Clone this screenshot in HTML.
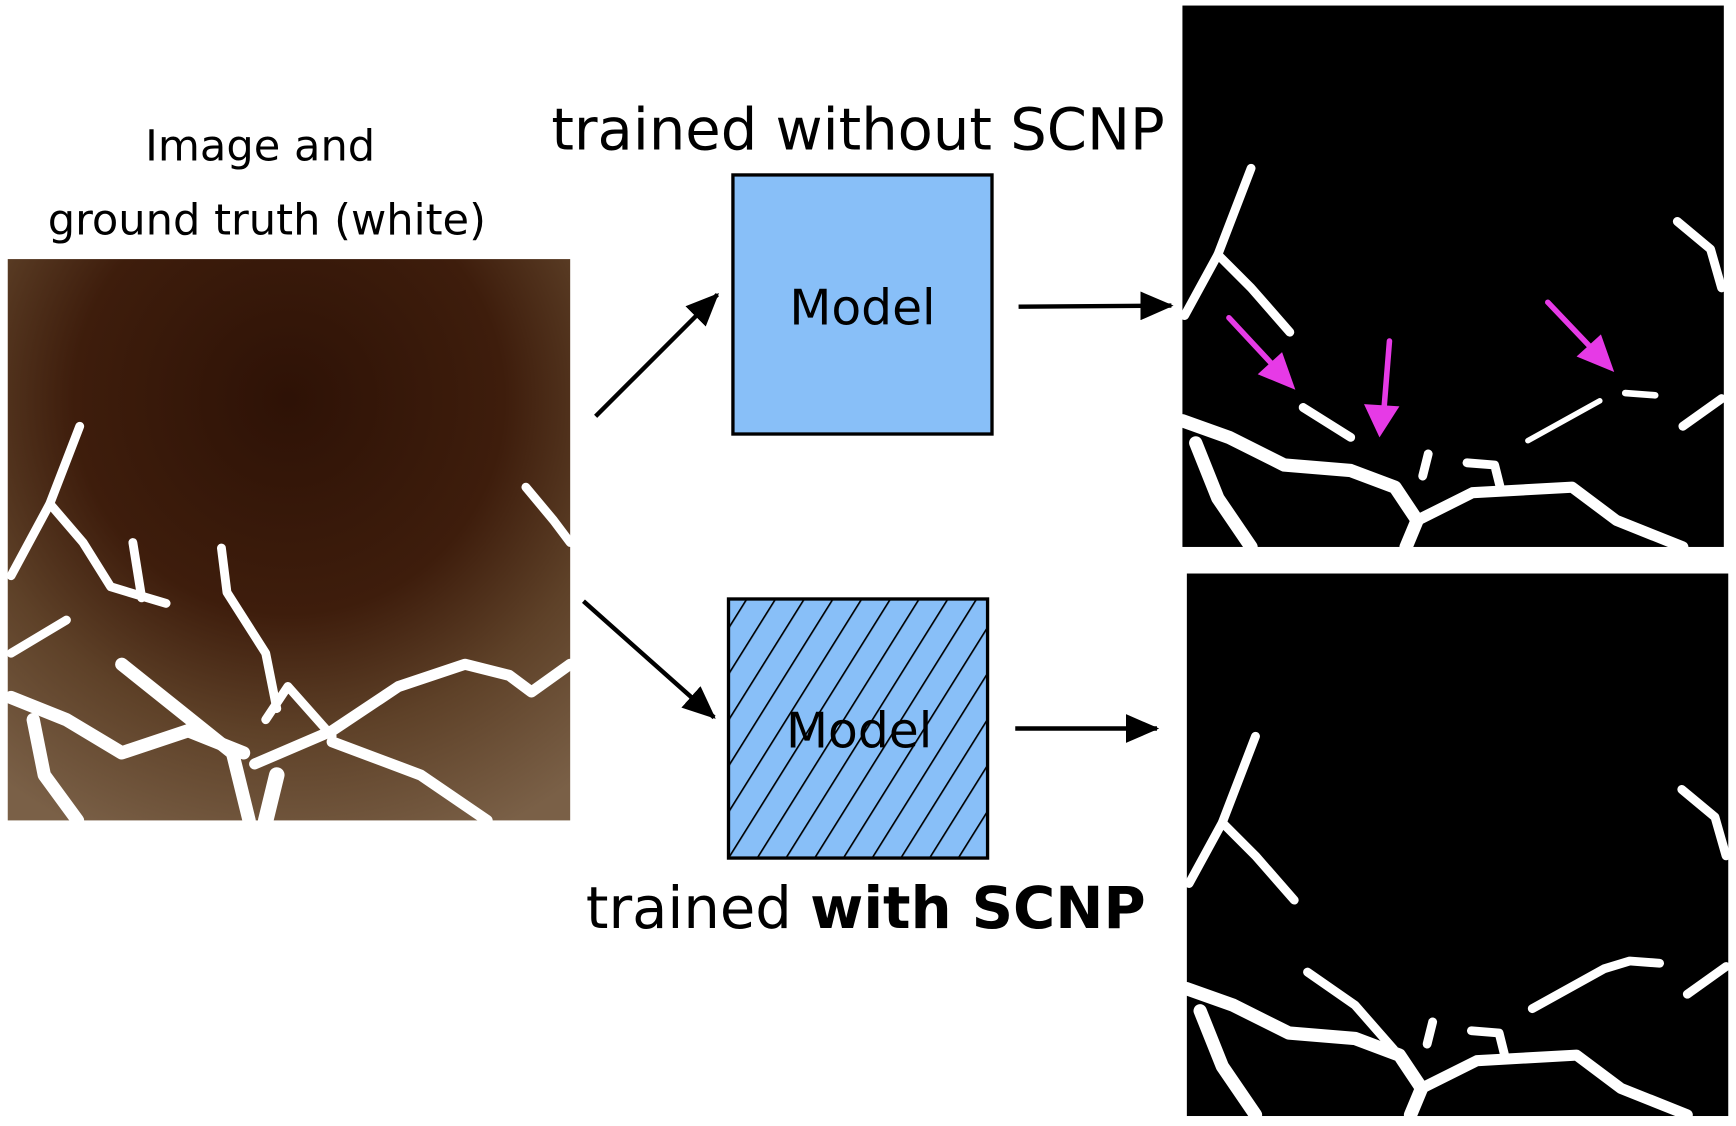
<!DOCTYPE html>
<html><head><meta charset="utf-8"><style>html,body{margin:0;padding:0;background:#fff}svg{display:block}</style></head>
<body>
<svg width="1736" height="1126" viewBox="0 0 1568 1017" xmlns="http://www.w3.org/2000/svg" font-family="'DejaVu Sans','Liberation Sans',sans-serif">
<defs>
<radialGradient id="bg" cx="0.5" cy="0.25" r="0.85">
<stop offset="0" stop-color="#2e1206"/><stop offset="0.45" stop-color="#3e1d0c"/><stop offset="0.7" stop-color="#5e4128"/><stop offset="1" stop-color="#7a6047"/>
</radialGradient>
<pattern id="hatch" patternUnits="userSpaceOnUse" width="22" height="22" patternTransform="rotate(32)">
<rect width="22" height="22" fill="#88bff8"/><line x1="0" y1="0" x2="0" y2="22" stroke="#000" stroke-width="3"/>
</pattern>
<marker id="ah" markerWidth="32" markerHeight="26" refX="28" refY="13" orient="auto" markerUnits="userSpaceOnUse" viewBox="0 0 32 26"><path d="M0,0 L30,13 L0,26 z" fill="#000"/></marker>
</defs>
<text x="235" y="145" font-size="39" text-anchor="middle">Image and</text>
<text x="241" y="212" font-size="39" text-anchor="middle">ground truth (white)</text>
<rect x="7" y="234" width="508" height="507" fill="url(#bg)"/>
<g fill="none" stroke="#fff" stroke-width="8" stroke-linecap="round" stroke-linejoin="round">
<polyline points="72,385 45,455 10,520"/>
<polyline points="45,455 75,490 100,530 150,545"/>
<polyline points="120,490 128,540"/>
<polyline points="200,495 205,535 240,590 250,640"/>
<polyline points="10,590 60,560"/>
<polyline points="110,600 160,640 210,680 225,741" stroke-width="12"/>
<polyline points="10,630 60,650 110,680 170,660 220,680" stroke-width="12"/>
<polyline points="30,650 40,700 70,741" stroke-width="12"/>
<polyline points="230,690 300,660 360,620 420,600 460,610 480,625 515,600" stroke-width="10"/>
<polyline points="300,670 380,700 440,741" stroke-width="10"/>
<polyline points="250,700 240,741" stroke-width="14"/>
<polyline points="475,440 500,470 515,490"/>
<polyline points="240,650 260,620 300,665"/>
</g>
<text x="775" y="135" font-size="52" text-anchor="middle">trained without SCNP</text>
<rect x="662" y="158" width="234" height="234" fill="#88bff8" stroke="#000" stroke-width="3"/>
<text x="779" y="293" font-size="44" text-anchor="middle">Model</text>
<rect x="658" y="541" width="234" height="234" fill="url(#hatch)" stroke="#000" stroke-width="3"/>
<text x="776" y="675" font-size="44" text-anchor="middle">Model</text>
<text x="782" y="838" font-size="52" text-anchor="middle">trained <tspan font-weight="bold">with SCNP</tspan></text>
<g stroke="#000" stroke-width="4" marker-end="url(#ah)">
<line x1="538" y1="376" x2="648" y2="266"/>
<line x1="920" y1="277" x2="1058" y2="276"/>
<line x1="527" y1="543" x2="645" y2="648"/>
<line x1="917" y1="658" x2="1045" y2="658"/>
</g>
<rect x="1068" y="5" width="489" height="489" fill="#000"/>
<rect x="1072" y="518" width="489" height="490" fill="#000"/>
<g fill="none" stroke="#fff" stroke-width="8" stroke-linecap="round" stroke-linejoin="round">
<polyline points="1130,152 1100,230 1070,285"/>
<polyline points="1100,230 1130,260 1165,300"/>
<polyline points="1515,200 1545,225 1555,260"/>
<polyline points="1068,380 1110,395 1160,420 1220,425 1260,440 1280,470 1270,494" stroke-width="12"/>
<polyline points="1280,470 1330,445 1420,440 1460,470 1520,494" stroke-width="10"/>
<polyline points="1080,400 1100,450 1130,494" stroke-width="12"/>
<polyline points="1177,368 1220,395"/>
<polyline points="1380,398 1445,362" stroke-width="5"/>
<polyline points="1468,355 1495,357" stroke-width="6"/>
<polyline points="1520,385 1555,360"/>
<polyline points="1285,430 1290,410"/>
<polyline points="1325,418 1350,420 1355,440"/>
</g>
<g fill="none" stroke="#fff" stroke-width="8" stroke-linecap="round" stroke-linejoin="round" transform="translate(4,513)">
<polyline points="1130,152 1100,230 1070,285"/>
<polyline points="1100,230 1130,260 1165,300"/>
<polyline points="1515,200 1545,225 1555,260"/>
<polyline points="1068,380 1110,395 1160,420 1220,425 1260,440 1280,470 1270,494" stroke-width="12"/>
<polyline points="1280,470 1330,445 1420,440 1460,470 1520,494" stroke-width="10"/>
<polyline points="1080,400 1100,450 1130,494" stroke-width="12"/>
<polyline points="1177,365 1220,395 1255,435"/>
<polyline points="1380,398 1445,362 1468,355 1495,357" stroke-width="8"/>
<polyline points="1520,385 1555,360"/>
<polyline points="1285,430 1290,410"/>
<polyline points="1325,418 1350,420 1355,440"/>
</g>
<g stroke="#e63ae6" stroke-width="5" fill="#e63ae6" stroke-linecap="round">
<line x1="1110" y1="287" x2="1150" y2="330"/><polygon points="1170,352 1136,338 1158,318" stroke="none"/>
<line x1="1255" y1="308" x2="1250" y2="370"/><polygon points="1246,395 1232,365 1264,367" stroke="none"/>
<line x1="1398" y1="273" x2="1438" y2="315"/><polygon points="1458,336 1424,322 1446,302" stroke="none"/>
</g>
</svg>
</body></html>
